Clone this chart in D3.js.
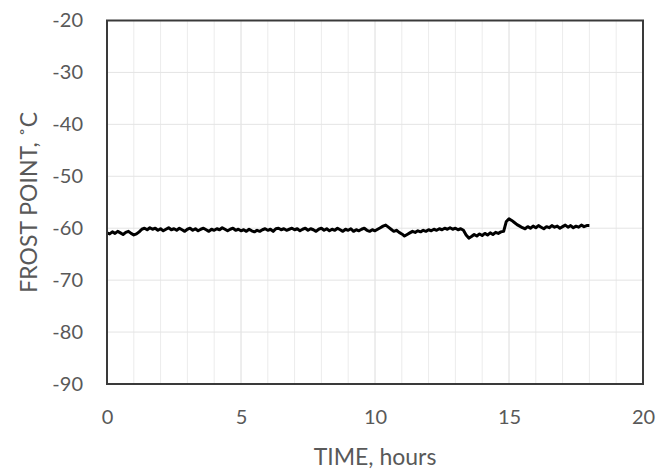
<!DOCTYPE html>
<meta charset="utf-8">
<script src="https://d3js.org/d3.v7.min.js"></script>
<style>
  body { margin: 0; background: #fff; }
  text { font-family: Lato, "Open Sans", sans-serif; fill: #595959; }
</style>
<body>
<script>

    // sampling step of the record, hours
    var step = 0.1;

    // frost point readings, one row per hour (10 samples each), last value at 18.0 h
    var frostPoint = [
        -60.9,-61.1,-60.7,-61.0,-60.6,-60.9,-61.2,-60.8,-60.6,-61.0,
        -61.3,-61.1,-60.7,-60.2,-60.0,-60.3,-59.9,-60.2,-60.0,-60.4,
        -60.1,-60.5,-60.2,-59.9,-60.3,-60.1,-60.4,-60.0,-60.3,-60.6,
        -60.2,-60.0,-60.4,-60.1,-60.5,-60.2,-60.0,-60.3,-60.6,-60.2,
        -60.4,-60.1,-60.3,-59.9,-60.2,-60.5,-60.2,-60.0,-60.4,-60.2,
        -60.5,-60.3,-60.6,-60.2,-60.5,-60.7,-60.4,-60.6,-60.3,-60.1,
        -60.4,-60.2,-60.6,-60.1,-60.0,-60.3,-60.1,-60.4,-60.2,-60.0,
        -60.3,-60.1,-60.5,-60.2,-60.0,-60.4,-60.1,-60.3,-60.6,-60.2,
        -60.0,-60.4,-60.1,-60.5,-60.2,-60.4,-60.0,-60.3,-60.6,-60.2,
        -60.4,-60.1,-60.6,-60.3,-60.5,-60.2,-60.0,-60.4,-60.6,-60.3,
        -60.5,-60.2,-59.9,-59.6,-59.4,-59.8,-60.2,-60.6,-60.4,-60.8,
        -61.1,-61.5,-61.2,-60.9,-60.6,-60.8,-60.5,-60.7,-60.4,-60.6,
        -60.3,-60.5,-60.2,-60.4,-60.1,-60.3,-60.0,-60.2,-59.9,-60.2,
        -60.0,-60.3,-60.1,-60.4,-61.3,-61.9,-61.6,-61.2,-61.5,-61.1,
        -61.4,-61.0,-61.3,-60.9,-61.2,-60.8,-61.0,-60.7,-60.6,-58.7,
        -58.2,-58.5,-58.9,-59.3,-59.6,-59.9,-60.1,-59.7,-60.0,-59.6,
        -59.9,-59.5,-59.8,-60.1,-59.7,-59.9,-59.5,-59.8,-59.6,-60.0,
        -59.7,-59.4,-59.8,-59.5,-59.9,-59.6,-59.8,-59.4,-59.7,-59.5,
        -59.5
    ];

    // axis ticks
    var xTicks = [0, 5, 10, 15, 20];
    var yTicks = [-20, -30, -40, -50, -60, -70, -80, -90];
    var xMinor = d3.range(0, 21, 1);

    var margin = {top: 20.5, right: 25, bottom: 86, left: 107},
        width = 668 - margin.left - margin.right,
        height = 470 - margin.top - margin.bottom;

    var x = d3.scaleLinear().domain([0, 20]).range([0, width]);
    var y = d3.scaleLinear().domain([-90, -20]).range([height, 0]);

    var svg = d3.select("body")
        .append("svg")
        .attr("width", 668)
        .attr("height", 470)
        .append("g")
        .attr("transform", "translate(" + margin.left + "," + margin.top + ")");

    // vertical grid, one per hour
    svg.selectAll(".vgrid")
        .data(xMinor)
        .enter()
        .append("line")
        .attr("x1", function(d) { return x(d); })
        .attr("x2", function(d) { return x(d); })
        .attr("y1", 0)
        .attr("y2", height)
        .style("stroke", function(d) { return d % 5 === 0 ? "#dcdcdc" : "#ececec"; })
        .style("stroke-width", 1);

    // horizontal grid
    svg.selectAll(".hgrid")
        .data(yTicks)
        .enter()
        .append("line")
        .attr("x1", 0)
        .attr("x2", width)
        .attr("y1", function(d) { return y(d); })
        .attr("y2", function(d) { return y(d); })
        .style("stroke", "#e4e4e4")
        .style("stroke-width", 1);

    // frost point trace
    var line = d3.line()
        .x(function(d, i) { return x(i * step); })
        .y(function(d) { return y(d); });

    svg.append("path")
        .datum(frostPoint)
        .attr("d", line)
        .style("fill", "none")
        .style("stroke", "#000")
        .style("stroke-width", 3)
        .style("stroke-linejoin", "round");

    // frame
    svg.append("rect")
        .attr("width", width)
        .attr("height", height)
        .style("fill", "none")
        .style("stroke", "#3a3a3a")
        .style("stroke-width", 2);

    // plain hyphen minus, like the original
    var plain = function(d) { return String(d); };

    // x axis
    var xAxis = svg.append("g")
        .attr("transform", "translate(0," + height + ")")
        .call(d3.axisBottom(x).tickValues(xTicks).tickSize(0).tickPadding(26).tickFormat(plain));
    xAxis.select(".domain").remove();
    xAxis.selectAll("text").style("font-size", "20px").style("fill", "#595959");

    // y axis
    var yAxis = svg.append("g")
        .call(d3.axisLeft(y).tickValues(yTicks).tickSize(0).tickPadding(24).tickFormat(plain));
    yAxis.select(".domain").remove();
    yAxis.selectAll("text").style("font-size", "20px").style("fill", "#595959");

    // axis titles
    svg.append("text")
        .attr("text-anchor", "middle")
        .attr("x", width / 2)
        .attr("y", height + 81)
        .style("font-size", "23px")
        .text("TIME, hours");

    svg.append("text")
        .attr("text-anchor", "middle")
        .attr("transform", "rotate(-90)")
        .attr("x", -height / 2)
        .attr("y", -margin.left + 37)
        .style("font-size", "23px")
        .text("FROST POINT, \u02DAC");

</script>
</body>
